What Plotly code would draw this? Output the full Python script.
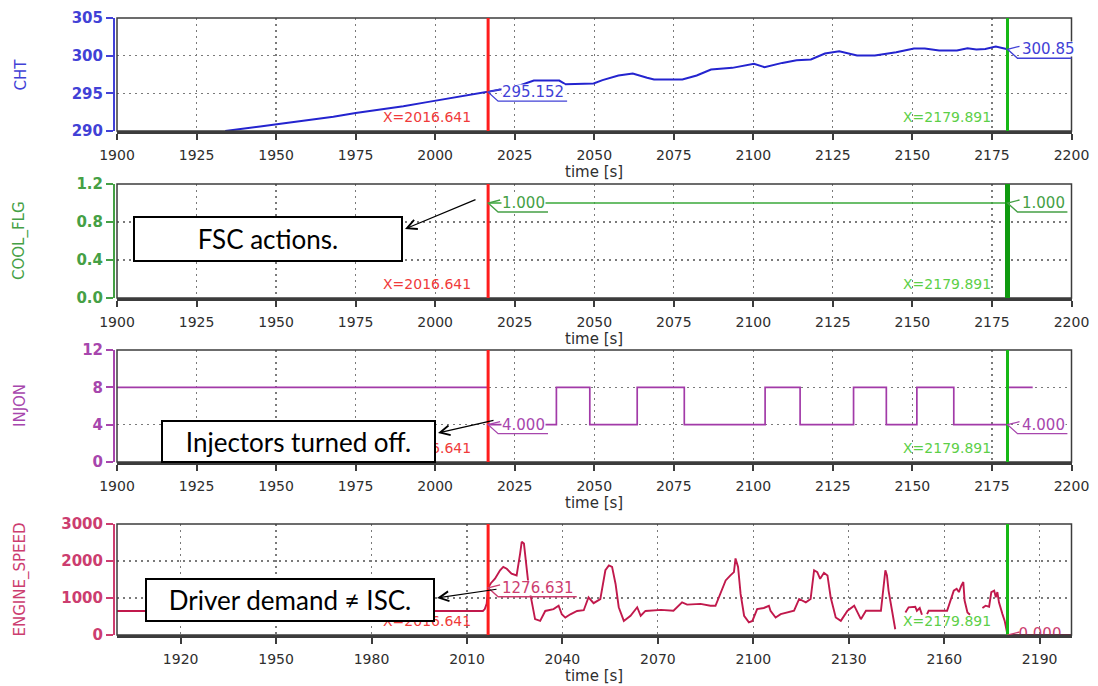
import plotly.graph_objects as go

# ---------------- recorded signals ----------------
CURSOR_A = 2016.641
CURSOR_B = 2179.891

cht_time = [1934.0, 1938.0, 1945.0, 1952.0, 1960.0, 1968.0, 1975.0, 1982.0, 1990.0, 1997.0,
            2004.0, 2010.0, 2016.641, 2022.0, 2027.0, 2031.0, 2039.0, 2041.0, 2049.8, 2052.6,
            2057.6, 2062.1, 2066.6, 2068.8, 2077.7, 2082.2, 2086.7, 2093.4, 2100.2, 2103.5,
            2109.1, 2113.6, 2118.1, 2122.5, 2127.0, 2132.6, 2138.2, 2144.9, 2150.5, 2153.9,
            2158.4, 2164.0, 2167.3, 2170.1, 2172.9, 2176.2, 2179.891]
cht_value = [290.0, 290.25, 290.6, 291.0, 291.45, 291.9, 292.4, 292.8, 293.3, 293.8,
             294.3, 294.7, 295.152, 295.6, 296.1, 296.7, 296.7, 296.2, 296.3, 296.75,
             297.37, 297.63, 297.06, 296.84, 296.84, 297.37, 298.16, 298.38, 298.91, 298.47,
             299.04, 299.4, 299.49, 300.28, 300.59, 300.02, 300.02, 300.46, 300.94, 300.94,
             300.68, 300.68, 300.99, 300.81, 300.9, 301.2, 300.85]

cool_time = [2016.641, 2179.891]
cool_value = [1.0, 1.0]

injon_time = [1900.0, 2016.641, 2038.1, 2048.6, 2063.5, 2078.3, 2103.7, 2114.7, 2131.5,
              2141.8, 2151.4, 2163.0, 2180.0, 2187.8]
injon_value = [8, 4, 8, 4, 8, 4, 8, 4, 8, 4, 8, 4, 8, 8]

speed_time = [1900.0, 2015.0, 2015.6, 2016.2, 2016.641, 2017.5, 2018.8, 2020.4, 2021.4, 2022.5,
              2024.0, 2025.6, 2026.7, 2027.2, 2027.9, 2028.6, 2029.3, 2030.4, 2031.4, 2033.0,
              2034.6, 2037.2, 2038.8, 2039.8, 2040.9, 2042.5, 2044.6, 2046.7, 2048.2, 2049.8,
              2051.9, 2053.5, 2054.6, 2055.6, 2056.7, 2057.7, 2059.3, 2061.4, 2063.5, 2064.6,
              2066.1, 2071.0, 2074.9, 2077.6, 2079.2, 2083.4, 2086.5, 2088.1, 2089.7, 2091.3,
              2092.8, 2093.9, 2094.4, 2095.2, 2096.0, 2097.1, 2098.6, 2099.7, 2101.2, 2103.3,
              2104.9, 2105.4, 2107.0, 2108.6, 2112.8, 2114.4, 2116.5, 2118.0, 2119.1, 2120.1,
              2121.0, 2122.2, 2123.3, 2124.3, 2125.9, 2127.5, 2129.6, 2131.7, 2133.8, 2135.4,
              2140.1, 2141.0, 2141.5, 2142.0, 2142.5, 2143.6, 2144.6, 2146.0, 2147.8, 2148.8,
              2150.9, 2151.4, 2152.3, 2153.0, 2153.8, 2154.6, 2155.1, 2160.9, 2162.0, 2163.0,
              2163.9, 2164.6, 2165.4, 2166.0, 2166.4, 2167.3, 2168.1, 2170.0, 2172.0, 2173.0,
              2174.1, 2174.8, 2175.7, 2176.2, 2176.7, 2177.2, 2178.3, 2179.0, 2179.891, 2200.0]
speed_value = [650, 650, 700, 850, 1276.631, 1400, 1520, 1750, 1840, 1790,
               1660, 1610, 2200, 2520, 2470, 1840, 1380, 880, 430, 380,
               650, 700, 790, 560, 470, 560, 650, 670, 1020, 860,
               970, 1750, 1880, 1840, 1380, 750, 380, 520, 750, 520,
               650, 680, 656, 880, 820, 840, 790, 790, 1160, 1475,
               1610, 1700, 2070, 1840, 1110, 520, 340, 380, 700, 730,
               790, 656, 474, 565, 656, 974, 883, 974, 1750, 1700,
               1520, 1680, 1610, 1020, 474, 382, 656, 792, 428, 656,
               656, 1400, 1750, 1610, 1200, 656, 155, None, 610, 747,
               765, 656, 729, 546, None, 565, 656, 656, 929, 1200,
               1250, 1160, 1340, 1430, 930, 610, 546, None, 729, 792,
               765, 1160, 1200, 1020, 1160, 883, 565, 382, 0, 0]

x_ticks_upper = [1900, 1925, 1950, 1975, 2000, 2025, 2050, 2075, 2100, 2125, 2150, 2175, 2200]
x_ticks_lower = [1920, 1950, 1980, 2010, 2040, 2070, 2100, 2130, 2160, 2190]
cht_ticks = [290, 295, 300, 305]
cool_ticks = [0.0, 0.4, 0.8, 1.2]
injon_ticks = [0, 4, 8, 12]
speed_ticks = [0, 1000, 2000, 3000]

# ---------------- page geometry (pixels) ----------------
W, H = 1098, 686
PLOT_L, PLOT_R = 117, 1071.5
PANELS = [(18, 131), (184, 298), (350, 462), (524, 635)]
T0, T1 = 1900, 2200
PX_PER_S = (PLOT_R - PLOT_L) / (T1 - T0)

FONT = "DejaVu Sans"
BOX_FONT = "Lato"
AXIS_GREY = "#3c3c3c"
GRID_GREY = "#7a7a7a"
GRID_DASH = "2px,4px"


def px_x(p):
    return p / W


def px_y(p):
    return 1 - p / H


def value_at(times, values, t, step=False):
    """Signal value at time t (sample-and-hold for step signals)."""
    if step:
        v = values[0]
        for ti, vi in zip(times, values):
            if ti <= t:
                v = vi
        return v
    for ti, vi in zip(times, values):
        if ti == t and vi is not None:
            return vi
    raise ValueError(t)


panels = [
    dict(name="CHT", t=cht_time, v=cht_value, line="#2424cf", text="#4141d6", width=2.0,
         yt=cht_ticks, yr=[290, 305], fmt="d", xt=x_ticks_upper, step=False,
         labels=[(CURSOR_A, "{:.3f}", False), (CURSOR_B, "{:.2f}", False)]),
    dict(name="COOL_FLG", t=cool_time, v=cool_value, line="#3aa83a", text="#45a045", width=1.6,
         yt=cool_ticks, yr=[0, 1.2], fmt=".1f", xt=x_ticks_upper, step=False,
         labels=[(CURSOR_A, "{:.3f}", False), (CURSOR_B, "{:.3f}", False)]),
    dict(name="INJON", t=injon_time, v=injon_value, line="#a23aa8", text="#a746ad", width=1.7,
         yt=injon_ticks, yr=[0, 12], fmt="d", xt=x_ticks_upper, step=True,
         labels=[(CURSOR_A, "{:.3f}", False), (CURSOR_B, "{:.3f}", False)]),
    dict(name="ENGINE_SPEED", t=speed_time, v=speed_value, line="#c1194c", text="#cc3d6f", width=1.9,
         yt=speed_ticks, yr=[0, 3000], fmt="d", xt=x_ticks_lower, step=False,
         labels=[(CURSOR_A, "{:.3f}", False), (CURSOR_B, "{:.3f}", True)]),
]

fig = go.Figure()
layout = dict(
    template="none",
    width=W, height=H,
    margin=dict(l=0, r=0, t=0, b=0, pad=0, autoexpand=False),
    paper_bgcolor="white", plot_bgcolor="white",
    showlegend=False,
)
shapes, annotations = [], []

for i, p in enumerate(panels, start=1):
    sfx = "" if i == 1 else str(i)
    xa, ya = "x" + sfx, "y" + sfx
    top, bot = PANELS[i - 1]

    fig.add_trace(go.Scatter(
        x=p["t"], y=p["v"], mode="lines", xaxis=xa, yaxis=ya,
        line=dict(color=p["line"], width=p["width"], shape="hv" if p["step"] else "linear"),
        connectgaps=False, hoverinfo="skip", showlegend=False,
    ))

    layout["xaxis" + sfx] = dict(
        domain=[PLOT_L / W, PLOT_R / W], anchor=ya, range=[T0, T1], automargin=False,
        tickmode="array", tickvals=p["xt"], ticks="outside", ticklen=6, tickwidth=2,
        tickcolor=AXIS_GREY, showline=True, linecolor=AXIS_GREY, linewidth=3, mirror=False,
        showgrid=True, gridcolor=GRID_GREY, griddash=GRID_DASH, gridwidth=1.2, zeroline=False,
        tickfont=dict(family=FONT, size=14, color="#2e2e2e"), ticklabelstandoff=3,
        fixedrange=True,
    )
    yfmt = ".1f" if p["fmt"] == ".1f" else "d"
    layout["yaxis" + sfx] = dict(
        domain=[px_y(bot), px_y(top)], anchor="free", position=PLOT_L / W, shift=-3,
        range=p["yr"], automargin=False, tickmode="array", tickvals=p["yt"], tickformat=yfmt,
        ticks="outside", ticklen=7, tickwidth=2, tickcolor=p["text"],
        showline=True, linecolor=p["text"], linewidth=2,
        showgrid=True, gridcolor=GRID_GREY, griddash=GRID_DASH, gridwidth=1.2, zeroline=False,
        tickfont=dict(family=FONT, size=15, color=p["text"], weight="bold"),
        fixedrange=True,
    )

    # plot frame
    shapes.append(dict(type="rect", xref=xa + " domain", yref=ya + " domain",
                       x0=0, x1=1, y0=0, y1=1, line=dict(color=AXIS_GREY, width=1.5),
                       layer="above"))
    # measurement cursors
    shapes.append(dict(type="line", xref=xa, yref=ya + " domain", x0=CURSOR_A, x1=CURSOR_A,
                       y0=0, y1=1, line=dict(color="#ff1d1d", width=3), layer="above"))
    shapes.append(dict(type="line", xref=xa, yref=ya + " domain", x0=CURSOR_B, x1=CURSOR_B,
                       y0=0, y1=1, line=dict(color="#16b816" if i != 2 else "#0f9a0f",
                                             width=3 if i != 2 else 5), layer="above"))

    # cursor position readouts
    annotations.append(dict(xref=xa, yref=ya + " domain", x=CURSOR_A, y=0, xanchor="right",
                            yanchor="bottom", xshift=-15, yshift=4, showarrow=False,
                            text=f"X={CURSOR_A:.3f}",
                            font=dict(family=FONT, size=14, color="#f03a3a")))
    annotations.append(dict(xref=xa, yref=ya + " domain", x=CURSOR_B, y=0, xanchor="right",
                            yanchor="bottom", xshift=-15, yshift=4, showarrow=False,
                            text=f"X={CURSOR_B:.3f}",
                            font=dict(family=FONT, size=14, color="#5ccf48")))

    # signal value readouts at each cursor
    for (tc, fmt, clipped) in p["labels"]:
        val = value_at(p["t"], p["v"], tc, step=p["step"])
        txt = fmt.format(val)
        fs = 15
        tw = fs * sum(0.636 if c.isdigit() else 0.318 for c in txt)
        shapes.append(dict(type="path", xref=xa, yref=ya, xsizemode="pixel", ysizemode="pixel",
                           xanchor=tc, yanchor=val,
                           path=f"M 12 3 L 0 0 L 10 -9 L {13 + tw + 4:.1f} -9",
                           line=dict(color=p["text"], width=1.3), layer="above"))
        if clipped:
            fig.add_trace(go.Scatter(
                x=[tc + 11 / PX_PER_S], y=[val], mode="text", text=[txt],
                textposition="middle right", cliponaxis=True, xaxis=xa, yaxis=ya,
                textfont=dict(family=FONT, size=fs, color=p["text"]),
                hoverinfo="skip", showlegend=False,
            ))
        else:
            annotations.append(dict(xref=xa, yref=ya, x=tc, y=val, xanchor="left",
                                    yanchor="middle", xshift=13, showarrow=False, text=txt,
                                    bgcolor="white", borderpad=0, height=14,
                                    font=dict(family=FONT, size=fs, color=p["text"])))

    # axis titles
    annotations.append(dict(xref="paper", yref="paper", x=px_x(20), y=px_y((top + bot) / 2),
                            xanchor="center", yanchor="middle",
                            text=p["name"], textangle=-90, showarrow=False,
                            font=dict(family=FONT, size=15, color=p["text"])))
    annotations.append(dict(xref="paper", yref="paper", x=px_x((PLOT_L + PLOT_R) / 2),
                            y=px_y(bot + 41), xanchor="center", yanchor="middle",
                            text="time [s]", showarrow=False,
                            font=dict(family=FONT, size=15, color="#2e2e2e")))

# explanatory call-outs: text, box (x0, y0, x1, y1), arrow tail, arrow head (pixels)
callouts = [
    ("FSC actions.", (133, 216, 403, 262), (477, 199), (405, 229)),
    ("Injectors turned off.", (161, 420, 436, 463), (495, 420), (438, 433)),
    ("Driver demand \u2260 ISC.", (145, 578, 435, 622), (498, 589), (437, 598)),
]
for text, (x0, y0, x1, y1), tail, head in callouts:
    annotations.append(dict(xref="paper", yref="paper", x=px_x((x0 + x1) / 2),
                            y=px_y((y0 + y1) / 2), xanchor="center", yanchor="middle",
                            width=x1 - x0 - 4, height=y1 - y0 - 4, text=text, showarrow=False,
                            bgcolor="white", bordercolor="black", borderwidth=2, borderpad=0,
                            font=dict(family=BOX_FONT, size=26, color="black")))
    annotations.append(dict(xref="paper", yref="paper", x=px_x(head[0]), y=px_y(head[1]),
                            ax=tail[0] - head[0], ay=tail[1] - head[1], text="",
                            showarrow=True, arrowhead=5, arrowsize=1.6, arrowwidth=1.2,
                            arrowcolor="black", standoff=0))

layout["shapes"] = shapes
layout["annotations"] = annotations
fig.update_layout(**layout)

fig.write_html("out.html", config={"displayModeBar": False, "staticPlot": True})
